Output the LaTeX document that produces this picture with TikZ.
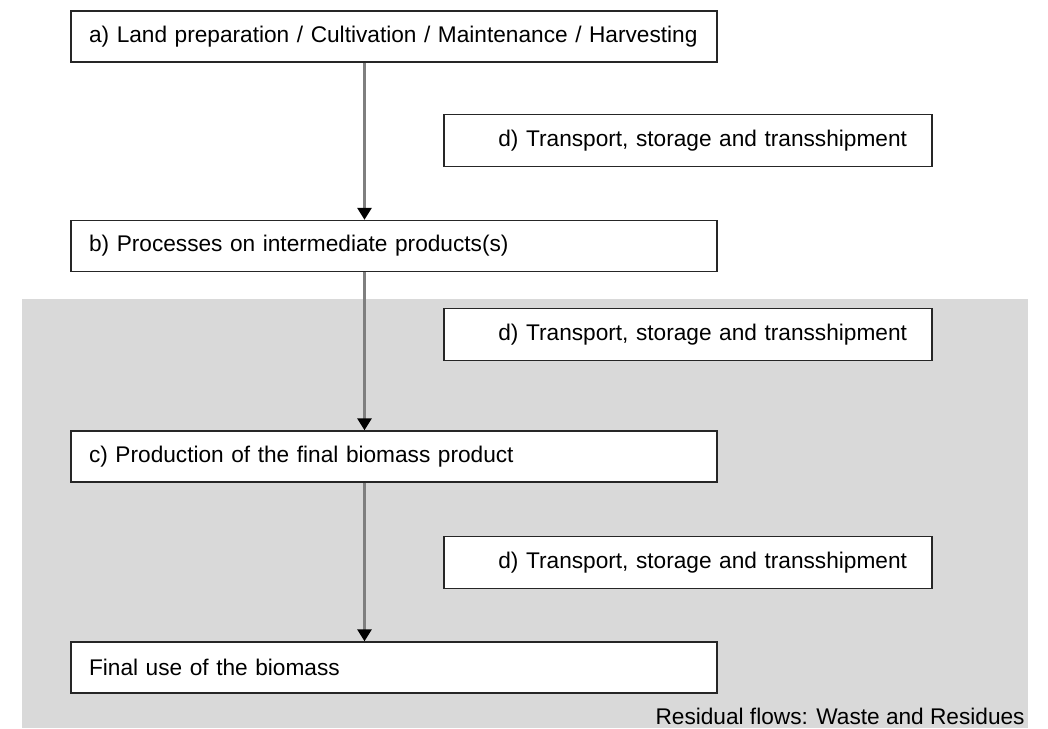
\documentclass[tikz,border=0pt]{standalone}
\usepackage{fontspec}
\setmainfont{Liberation Sans}
\usetikzlibrary{positioning,arrows.meta}
\definecolor{ResGray}{HTML}{D9D9D9}
\definecolor{ShaftGray}{HTML}{7F7F7F}

\begin{document}
\begin{tikzpicture}[x=0.02cm, y=-0.02cm,
        stage/.style={draw=black!85, thick, fill=white, minimum height=10.2mm,
                      text width=122mm, inner xsep=3.6mm, align=left,
                      font=\fontsize{12.9}{15}\selectfont},
        trans/.style={draw=black!85, thick, fill=white, minimum height=10.4mm,
                      text width=87.6mm, inner xsep=5mm, align=right,
                      font=\fontsize{12.9}{15}\selectfont},
        ar/.style={draw=ShaftGray, line width=1.6pt,
                   -{Triangle[length=2.4mm, width=2.8mm, color=black]}},
        note/.style={inner sep=0pt, font=\fontsize{12.9}{15}\selectfont},
      ]
      \useasboundingbox (0,0) rectangle (1048,728);
      % residual flows area
      \fill[ResGray] (22,299) rectangle (1028,728);
      \node[note, anchor=base east] (res) at (1025,724) {Residual flows: Waste and Residues};

      \node[stage] (land) at (394,36.5)  {a) Land preparation / Cultivation / Maintenance / Harvesting};
      \node[stage] (proc) at (394,246)   {b) Processes on intermediate products(s)};
      \node[stage] (prod) at (394,456.5) {c) Production of the final biomass product};
      \node[stage] (use)  at (394,667.5) {Final use of the biomass};

      \node[trans] (tr1) at (688,140.5) {d) Transport, storage and transshipment};
      \node[trans] (tr2) at (688,334.5) {d) Transport, storage and transshipment};
      \node[trans] (tr3) at (688,562.5) {d) Transport, storage and transshipment};

      \draw[ar] ([xshift=-5.9mm]land.south) -- ([xshift=-5.9mm]proc.north);
      \draw[ar] ([xshift=-5.9mm]proc.south) -- ([xshift=-5.9mm]prod.north);
      \draw[ar] ([xshift=-5.9mm]prod.south) -- ([xshift=-5.9mm]use.north);
    \end{tikzpicture}
\end{document}
